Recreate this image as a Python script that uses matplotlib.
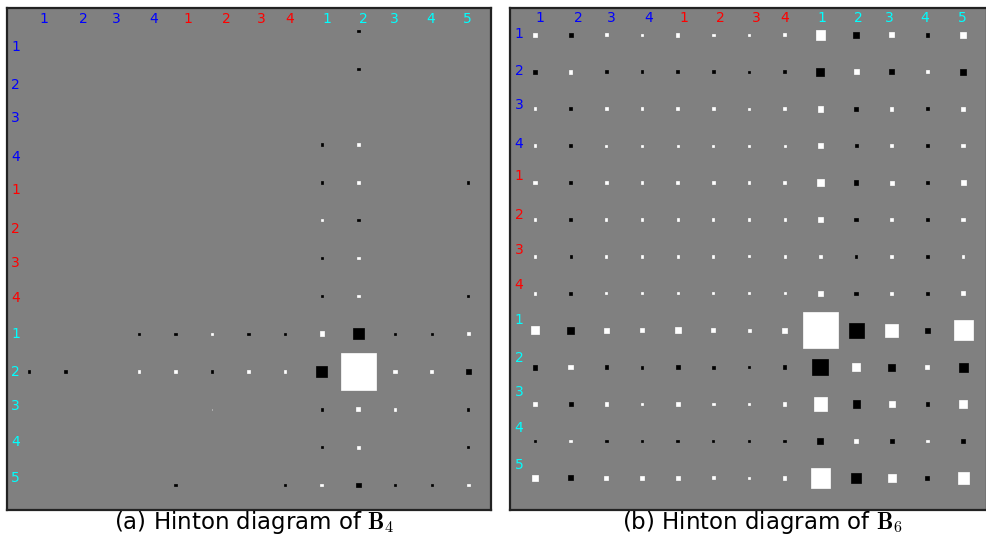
import numpy as np
import matplotlib
matplotlib.use("Agg")
import matplotlib.pyplot as plt
from matplotlib.patches import Rectangle

plt.rcParams['mathtext.fontset'] = 'cm'
plt.rcParams['font.family'] = ['DejaVu Sans']

# ---- data ----
label_text = ['1', '2', '3', '4', '1', '2', '3', '4', '1', '2', '3', '4', '5']
label_colors = ['blue'] * 4 + ['red'] * 4 + ['cyan'] * 5

B4 = np.array([
    [0, 0, 0, 0, 0, 0, 0, 0, 0, -0.004, 0, 0, 0],
    [0, 0, 0, 0, 0, 0, 0, 0, 0, -0.004, 0, 0, 0],
    [0, 0, 0, 0, 0, 0, 0, 0, 0, 0, 0, 0, 0],
    [0, 0, 0, 0, 0, 0, 0, 0, -0.004, 0.004, 0, 0, 0],
    [0, 0, 0, 0, 0, 0, 0, 0, -0.004, 0.004, 0, 0, -0.004],
    [0, 0, 0, 0, 0, 0, 0, 0, 0.004, -0.004, 0, 0, 0],
    [0, 0, 0, 0, 0, 0, 0, 0, -0.004, 0.004, 0, 0, 0],
    [0, 0, 0, 0, 0, 0, 0, 0, -0.004, 0.004, 0, 0, -0.004],
    [0, 0, 0, -0.004, -0.004, 0.004, -0.004, -0.004, 0.014, -0.085, -0.004, -0.004, 0.005],
    [-0.004, -0.004, 0, 0.004, 0.004, -0.004, 0.004, 0.004, -0.09, 0.91, 0.01, 0.006, -0.015],
    [0, 0, 0, 0, 0, 0.0005, 0, 0, -0.005, 0.012, 0.004, 0, -0.004],
    [0, 0, 0, 0, 0, 0, 0, 0, -0.004, 0.005, 0, 0, -0.004],
    [0, 0, 0, 0, -0.004, 0.0005, 0, -0.004, 0.006, -0.015, -0.004, -0.004, 0.005],
])

B6 = np.array([
    [0.012, -0.012, 0.007, 0.006, 0.009, 0.006, 0.005, 0.007, 0.063, -0.023, 0.019, -0.009, 0.028],
    [-0.009, 0.009, -0.007, -0.006, -0.007, -0.006, -0.005, -0.007, -0.049, 0.019, -0.019, 0.006, -0.023],
    [0.006, -0.006, 0.005, 0.005, 0.005, 0.005, 0.004, 0.005, 0.023, -0.009, 0.009, -0.006, 0.012],
    [0.005, -0.005, 0.004, 0.004, 0.004, 0.004, 0.004, 0.004, 0.016, -0.007, 0.006, -0.005, 0.009],
    [0.009, -0.009, 0.006, 0.006, 0.006, 0.006, 0.005, 0.006, 0.033, -0.016, 0.012, -0.007, 0.019],
    [0.005, -0.005, 0.004, 0.004, 0.004, 0.004, 0.004, 0.004, 0.016, -0.009, 0.006, -0.005, 0.009],
    [0.004, -0.004, 0.004, 0.004, 0.004, 0.004, 0.003, 0.004, 0.009, -0.006, 0.005, -0.004, 0.006],
    [0.005, -0.006, 0.004, 0.004, 0.004, 0.004, 0.004, 0.004, 0.019, -0.009, 0.009, -0.005, 0.012],
    [0.049, -0.038, 0.019, 0.012, 0.028, 0.012, 0.007, 0.019, 0.945, -0.174, 0.13, -0.019, 0.279],
    [-0.019, 0.016, -0.009, -0.007, -0.012, -0.007, -0.005, -0.009, -0.198, 0.049, -0.038, 0.012, -0.063],
    [0.016, -0.012, 0.009, 0.006, 0.012, 0.006, 0.005, 0.009, 0.13, -0.038, 0.028, -0.009, 0.049],
    [-0.006, 0.005, -0.005, -0.004, -0.006, -0.004, -0.004, -0.005, -0.028, 0.012, -0.012, 0.006, -0.016],
    [0.028, -0.019, 0.012, 0.009, 0.012, 0.007, 0.005, 0.009, 0.279, -0.07, 0.049, -0.012, 0.093],
])

captions = [r'(a) Hinton diagram of $\mathbf{B}_4$', r'(b) Hinton diagram of $\mathbf{B}_6$']

# ---- layout (positions of labels in data coords) ----
panel_cfg = [
    dict(rect=[7 / 987, 25 / 535, 484 / 987, 502 / 535],
         xlim=(-0.60, 12.62), ylim=(12.66, -0.61),
         top_x=[0.41, 1.48, 2.38, 3.42, 4.34, 5.38, 6.34, 7.13, 8.14, 9.13, 9.97, 10.96, 11.97],
         top_y=-0.32,
         left_y=[0.42, 1.43, 2.30, 3.33, 4.20, 5.23, 6.13, 7.06, 8.01, 9.01, 9.91, 10.86, 11.82],
         left_x=-0.36,
         cap_x=254 / 987),
    dict(rect=[510 / 987, 25 / 535, 477 / 987, 502 / 535],
         xlim=(-0.70, 12.67), ylim=(12.87, -0.73),
         top_x=[0.14, 1.21, 2.13, 3.20, 4.18, 5.21, 6.20, 7.01, 8.05, 9.06, 9.92, 10.93, 11.97],
         top_y=-0.46,
         left_y=[-0.03, 0.98, 1.90, 2.95, 3.82, 4.88, 5.82, 6.77, 7.72, 8.75, 9.67, 10.64, 11.65],
         left_x=-0.45,
         cap_x=762 / 987),
]


def hinton(ax, matrix, max_weight=1.0):
    ax.set_facecolor('#808080')
    for (r, c), w in np.ndenumerate(matrix):
        if w == 0:
            continue
        color = 'white' if w > 0 else 'black'
        size = np.sqrt(abs(w) / max_weight)
        ax.add_patch(Rectangle((c - size / 2, r - size / 2), size, size,
                               facecolor=color, edgecolor=color, linewidth=0.5))


fig = plt.figure(figsize=(9.87, 5.35), dpi=100)
for mat, cfg, cap in zip([B4, B6], panel_cfg, captions):
    ax = fig.add_axes(cfg['rect'])
    hinton(ax, mat)
    ax.set_xlim(*cfg['xlim'])
    ax.set_ylim(*cfg['ylim'])
    ax.set_xticks([])
    ax.set_yticks([])
    for sp in ax.spines.values():
        sp.set_linewidth(1.6)
        sp.set_color('#222222')
    for t, col, x in zip(label_text, label_colors, cfg['top_x']):
        ax.text(x, cfg['top_y'], t, color=col, fontsize=10, ha='center', va='center')
    for t, col, y in zip(label_text, label_colors, cfg['left_y']):
        ax.text(cfg['left_x'], y, t, color=col, fontsize=10, ha='center', va='center')
    fig.text(cfg['cap_x'], 13 / 535, cap, fontsize=16.5, ha='center', va='center')

fig.savefig('out.png', dpi=100)
